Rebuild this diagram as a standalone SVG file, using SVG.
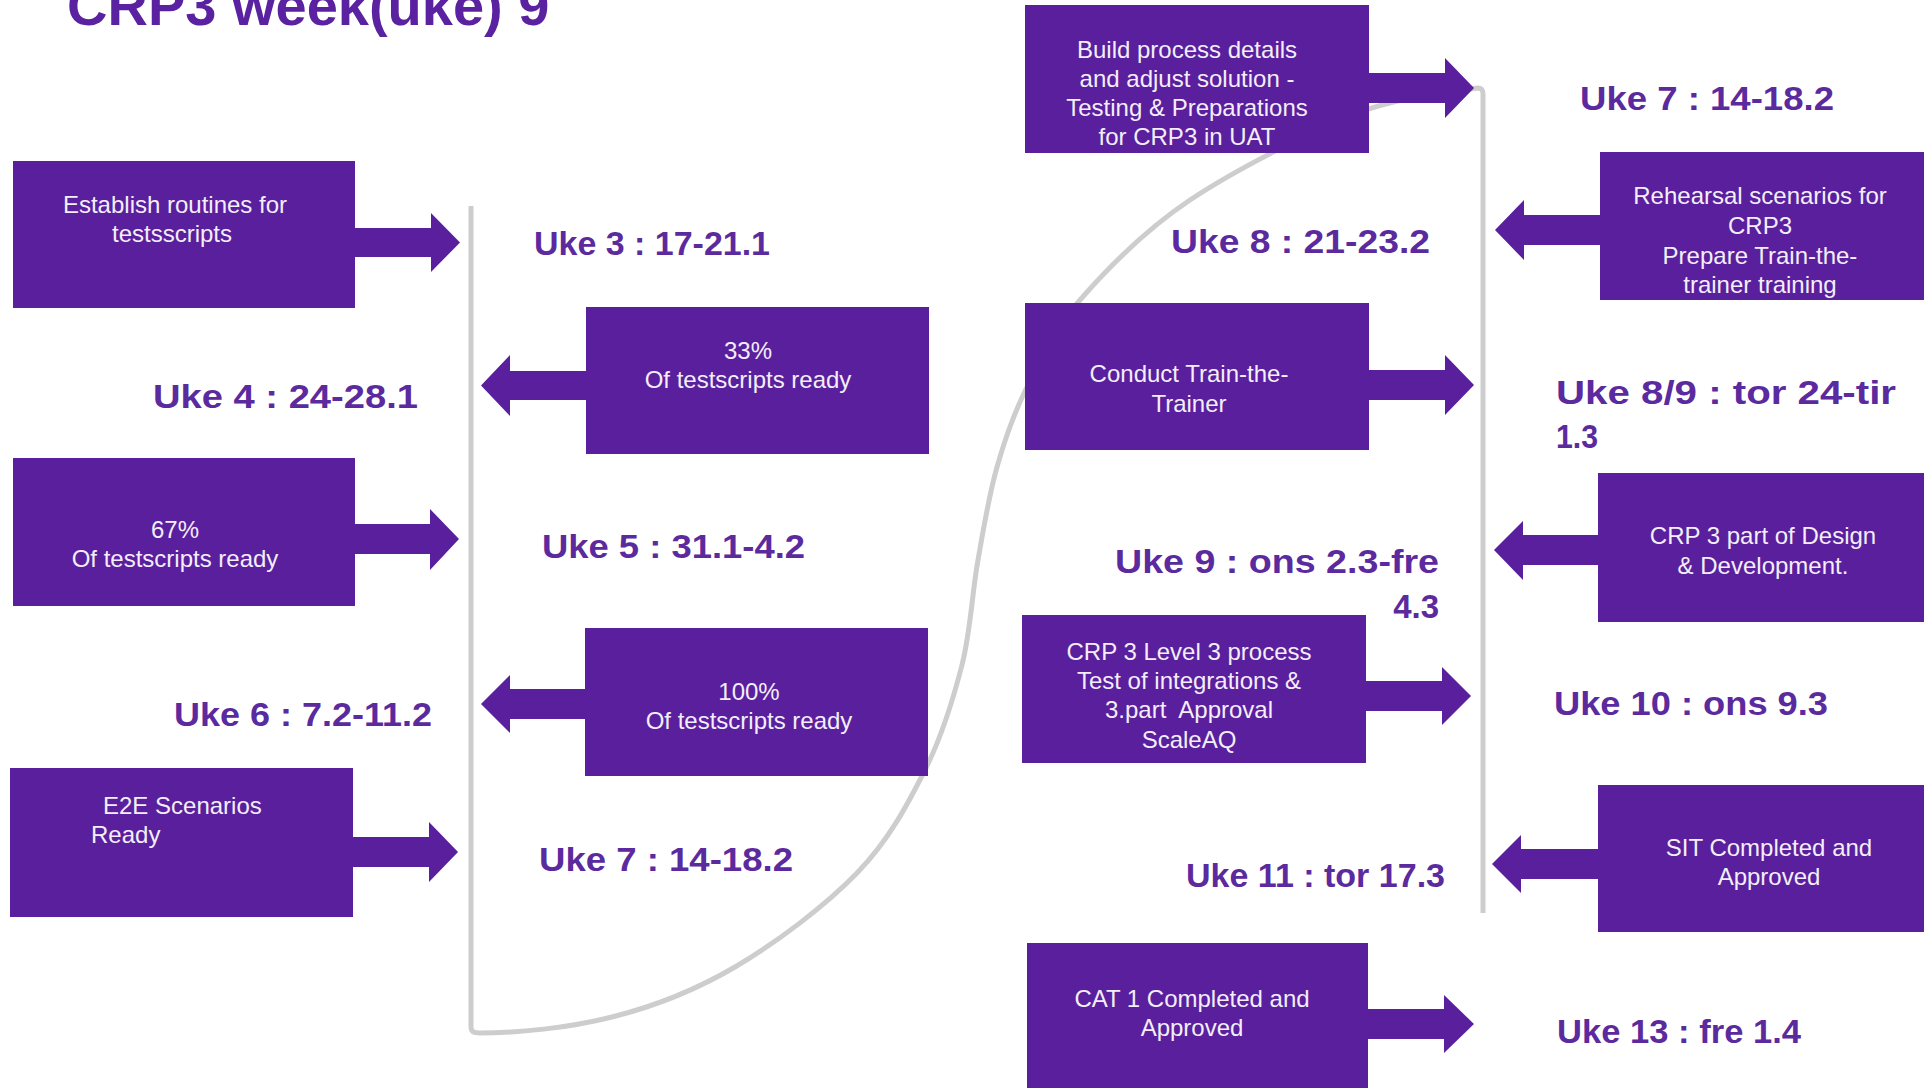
<svg xmlns="http://www.w3.org/2000/svg" width="1924" height="1088" viewBox="0 0 1924 1088">
<style>
.bg{fill:#ffffff}
.box{fill:#5a1f9d}
.arr{fill:#5a1f9d}
.bt{font-family:"Liberation Sans",Arial,sans-serif;font-size:24px;fill:#f3eef9}
.c{text-anchor:middle}
.uke{font-family:"Liberation Sans",Arial,sans-serif;font-size:33px;font-weight:bold;fill:#5b2a9e}
.title{font-family:"Liberation Sans",Arial,sans-serif;font-size:56px;font-weight:bold;fill:#5a21a0}
.tl{fill:none;stroke:#cdcdcd;stroke-width:5;stroke-linejoin:round}
</style>
<rect class="bg" x="0" y="0" width="1924" height="1088"/>
<text class="title" x="67" y="25">CRP3 week(uke) 9</text>

<g id="connectors">
<path class="tl" d="M471,206 L471,1028 Q471,1033 480,1033 C518,1033 568,1028 612,1017 C656,1006 694,991 735,967 C776,943 825,906 857,873 C889,840 907.5,804.7 925,770 C942.5,735.3 953,700 962,665 C970.8,630 972,593 978,560 C983.8,527 988.8,495.8 997,467 C1005.2,438.2 1013.2,414.8 1027,387 C1040.8,359.2 1052.8,331.2 1080,300 C1107.2,268.8 1142.5,231.7 1190,200 C1237.5,168.3 1316.2,128.7 1365,110 C1410,96 1443,92 1478,88 Q1483,88 1483,94 L1483,913"/>
</g>

<g id="node-establish">
<rect class="box" x="13" y="161" width="342" height="147"/>
<polygon class="arr" points="354,228 431,228 431,213 460,242.5 431,272 431,257 354,257"/>
<text class="bt c" x="175" y="213">Establish routines for</text>
<text class="bt c" x="172" y="242">testsscripts</text>
</g>

<g id="node-33">
<rect class="box" x="586" y="307" width="343" height="147"/>
<polygon class="arr" points="587,371 510,371 510,355 481,385.5 510,416 510,400 587,400"/>
<text class="bt c" x="748" y="359">33%</text>
<text class="bt c" x="748" y="388">Of testscripts ready</text>
</g>

<g id="node-67">
<rect class="box" x="13" y="458" width="342" height="148"/>
<polygon class="arr" points="354,524 430,524 430,509 459,539 430,570 430,554 354,554"/>
<text class="bt c" x="175" y="538">67%</text>
<text class="bt c" x="175" y="567">Of testscripts ready</text>
</g>

<g id="node-100">
<rect class="box" x="585" y="628" width="343" height="148"/>
<polygon class="arr" points="586,689 510,689 510,675 481,704 510,733 510,719 586,719"/>
<text class="bt c" x="749" y="700">100%</text>
<text class="bt c" x="749" y="729">Of testscripts ready</text>
</g>

<g id="node-e2e">
<rect class="box" x="10" y="768" width="343" height="149"/>
<polygon class="arr" points="352,837 429,837 429,822 458,852 429,882 429,867 352,867"/>
<text class="bt" x="103" y="814">E2E Scenarios</text>
<text class="bt" x="91" y="843">Ready</text>
</g>

<g id="node-build">
<rect class="box" x="1025" y="5" width="344" height="148"/>
<polygon class="arr" points="1368,73 1445,73 1445,58 1474,88 1445,118 1445,103 1368,103"/>
<text class="bt c" x="1187" y="58">Build process details</text>
<text class="bt c" x="1187" y="87">and adjust solution -</text>
<text class="bt c" x="1187" y="116">Testing &amp; Preparations</text>
<text class="bt c" x="1187" y="145">for CRP3 in UAT</text>
</g>

<g id="node-rehearsal">
<rect class="box" x="1600" y="152" width="330" height="148"/>
<polygon class="arr" points="1601,215 1524,215 1524,200 1495,230 1524,260 1524,245 1601,245"/>
<text class="bt c" x="1760" y="204">Rehearsal scenarios for</text>
<text class="bt c" x="1760" y="234">CRP3</text>
<text class="bt c" x="1760" y="264">Prepare Train-the-</text>
<text class="bt c" x="1760" y="293">trainer training</text>
</g>

<g id="node-conduct">
<rect class="box" x="1025" y="303" width="344" height="147"/>
<polygon class="arr" points="1368,370 1445,370 1445,355 1474,385 1445,415 1445,400 1368,400"/>
<text class="bt c" x="1189" y="382">Conduct Train-the-</text>
<text class="bt c" x="1189" y="412">Trainer</text>
</g>

<g id="node-design">
<rect class="box" x="1598" y="473" width="332" height="149"/>
<polygon class="arr" points="1599,535 1523,535 1523,521 1494,550 1523,580 1523,565 1599,565"/>
<text class="bt c" x="1763" y="544">CRP 3 part of Design</text>
<text class="bt c" x="1763" y="574">&amp; Development.</text>
</g>

<g id="node-level3">
<rect class="box" x="1022" y="615" width="344" height="148"/>
<polygon class="arr" points="1365,681 1442,681 1442,667 1471,696 1442,725 1442,711 1365,711"/>
<text class="bt c" x="1189" y="660">CRP 3 Level 3 process</text>
<text class="bt c" x="1189" y="689">Test of integrations &amp;</text>
<text class="bt c" x="1189" y="718" style="white-space:pre">3.part  Approval</text>
<text class="bt c" x="1189" y="748">ScaleAQ</text>
</g>

<g id="node-sit">
<rect class="box" x="1598" y="785" width="332" height="147"/>
<polygon class="arr" points="1599,849 1521,849 1521,835 1492,864 1521,893 1521,879 1599,879"/>
<text class="bt c" x="1769" y="856">SIT Completed and</text>
<text class="bt c" x="1769" y="885">Approved</text>
</g>

<g id="node-cat">
<rect class="box" x="1027" y="943" width="341" height="150"/>
<polygon class="arr" points="1367,1009 1444,1009 1444,995 1474,1024 1444,1053 1444,1039 1367,1039"/>
<text class="bt c" x="1192" y="1007">CAT 1 Completed and</text>
<text class="bt c" x="1192" y="1036">Approved</text>
</g>

<g id="labels">
<text class="uke" x="534" y="255" textLength="236" lengthAdjust="spacingAndGlyphs">Uke 3 : 17-21.1</text>
<text class="uke" x="153" y="408" textLength="265" lengthAdjust="spacingAndGlyphs">Uke 4 : 24-28.1</text>
<text class="uke" x="542" y="558" textLength="263" lengthAdjust="spacingAndGlyphs">Uke 5 : 31.1-4.2</text>
<text class="uke" x="174" y="726" textLength="258" lengthAdjust="spacingAndGlyphs">Uke 6 : 7.2-11.2</text>
<text class="uke" x="539" y="871" textLength="254" lengthAdjust="spacingAndGlyphs">Uke 7 : 14-18.2</text>
<text class="uke" x="1580" y="110" textLength="254" lengthAdjust="spacingAndGlyphs">Uke 7 : 14-18.2</text>
<text class="uke" x="1171" y="253" textLength="259" lengthAdjust="spacingAndGlyphs">Uke 8 : 21-23.2</text>
<text class="uke" x="1556" y="404" textLength="340" lengthAdjust="spacingAndGlyphs">Uke 8/9 : tor 24-tir</text>
<text class="uke" x="1556" y="448" textLength="42" lengthAdjust="spacingAndGlyphs">1.3</text>
<text class="uke" x="1115" y="573" textLength="324" lengthAdjust="spacingAndGlyphs">Uke 9 : ons 2.3-fre</text>
<text class="uke" x="1439" y="618" text-anchor="end">4.3</text>
<text class="uke" x="1554" y="715" textLength="274" lengthAdjust="spacingAndGlyphs">Uke 10 : ons 9.3</text>
<text class="uke" x="1186" y="887" textLength="259" lengthAdjust="spacingAndGlyphs">Uke 11 : tor 17.3</text>
<text class="uke" x="1557" y="1043" textLength="244" lengthAdjust="spacingAndGlyphs">Uke 13 : fre 1.4</text>
</g>
</svg>
